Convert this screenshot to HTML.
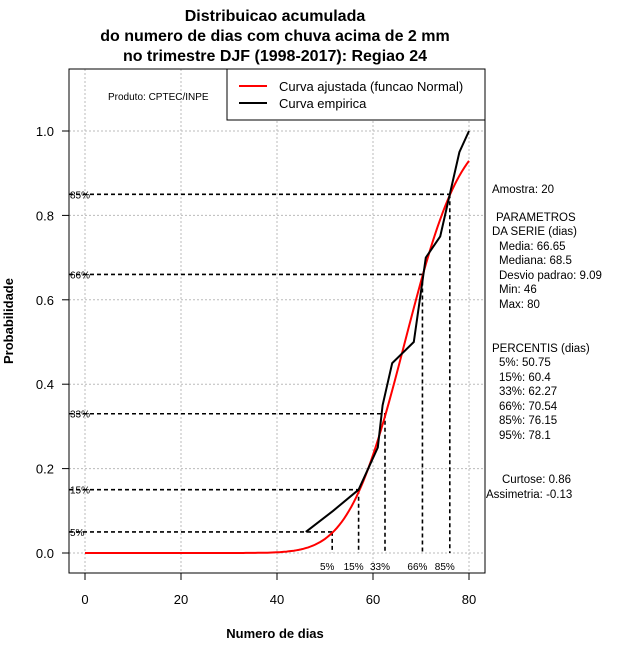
<!DOCTYPE html>
<html><head><meta charset="utf-8"><style>
body{margin:0;background:#fff}
svg{display:block;font-family:"Liberation Sans",sans-serif}
</style></head><body>
<svg id="c" width="640" height="660" xmlns="http://www.w3.org/2000/svg">
<g font-size="16" font-weight="bold" text-anchor="middle">
<text x="275" y="21">Distribuicao acumulada</text>
<text x="275" y="41">do numero de dias com chuva acima de 2 mm</text>
<text x="275" y="61">no trimestre DJF (1998-2017): Regiao 24</text>
</g>
<g id="grid"></g>
<g id="refs"></g>
<path id="fit" fill="none" stroke="#f00" stroke-width="2"/>
<path id="emp" fill="none" stroke="#000" stroke-width="2"/>
<rect x="69" y="69" width="416" height="504" fill="none" stroke="#000"/>
<g id="axes" font-size="13"></g>
<text x="275" y="638" font-size="13" font-weight="bold" text-anchor="middle">Numero de dias</text>
<text transform="translate(13,321) rotate(-90)" font-size="13" font-weight="bold" text-anchor="middle">Probabilidade</text>
<text x="108" y="100" font-size="10">Produto: CPTEC/INPE</text>
<g>
<rect x="227" y="69" width="258" height="51" fill="#fff" stroke="#000"/>
<line x1="239" y1="86" x2="267" y2="86" stroke="#f00" stroke-width="2"/>
<line x1="239" y1="103" x2="267" y2="103" stroke="#000" stroke-width="2"/>
<text x="279" y="91" font-size="13">Curva ajustada (funcao Normal)</text>
<text x="279" y="108" font-size="13">Curva empirica</text>
</g>
<g font-size="11.5">
<text x="492" y="193">Amostra: 20</text>
<text x="496" y="221">PARAMETROS</text>
<text x="492" y="235">DA SERIE (dias)</text>
<text x="499" y="250">Media: 66.65</text>
<text x="499" y="264">Mediana: 68.5</text>
<text x="499" y="279">Desvio padrao: 9.09</text>
<text x="499" y="293">Min: 46</text>
<text x="499" y="308">Max: 80</text>
<text x="492" y="352">PERCENTIS (dias)</text>
<text x="499" y="366">5%: 50.75</text>
<text x="499" y="381">15%: 60.4</text>
<text x="499" y="395">33%: 62.27</text>
<text x="499" y="410">66%: 70.54</text>
<text x="499" y="424">85%: 76.15</text>
<text x="499" y="439">95%: 78.1</text>
<text x="502" y="483">Curtose: 0.86</text>
<text x="486" y="498">Assimetria: -0.13</text>
</g>
</svg>
<script>
const xTicks=[0,20,40,60,80];
const yTicks=[0,0.2,0.4,0.6,0.8,1.0];
const empX=[46,51.7,57,61,62,64,68.5,71,74,78,80];
const empY=[0.05,0.10,0.15,0.25,0.35,0.45,0.5,0.7,0.75,0.95,1.0];
const fitMean=66.65, fitSd=9.09;
const pctLabels=["5%","15%","33%","66%","85%"];
const pctProb=[0.05,0.15,0.33,0.66,0.85];
const pctDays=[51.5,57,62.5,70.3,76];
const X=v=>85+v*4.8, Y=p=>553-p*422;
const NS="http://www.w3.org/2000/svg";
function mk(parent,tag,attrs){const e=document.createElementNS(NS,tag);for(const k in attrs)e.setAttribute(k,attrs[k]);parent.appendChild(e);return e;}
const grid=document.getElementById('grid'),axes=document.getElementById('axes'),refs=document.getElementById('refs');
xTicks.forEach(t=>{
 const g=mk(grid,'line',{x1:X(t),x2:X(t),y1:69,y2:573,stroke:'#bbb','stroke-dasharray':'2,2'});
 
 const tk=mk(axes,'line',{x1:X(t),x2:X(t),y1:573,y2:580,stroke:'#000'});
 
 const l=mk(axes,'text',{x:X(t),y:604,'text-anchor':'middle'});l.textContent=t;
 
});
yTicks.forEach(t=>{
 const g=mk(grid,'line',{x1:69,x2:485,y1:Y(t),y2:Y(t),stroke:'#bbb','stroke-dasharray':'2,2'});
 
 const tk=mk(axes,'line',{x1:62,x2:69,y1:Y(t),y2:Y(t),stroke:'#000'});
 
 const l=mk(axes,'text',{x:54,y:Y(t)+5,'text-anchor':'end'});l.textContent=t.toFixed(1);
 
});
pctProb.forEach((p,i)=>{
 const h=mk(refs,'line',{x1:69,x2:X(pctDays[i]),y1:Y(p),y2:Y(p),stroke:'#000','stroke-width':1.6,'stroke-dasharray':'4,3'});
 
 const v=mk(refs,'line',{x1:X(pctDays[i]),x2:X(pctDays[i]),y1:Y(p),y2:Y(0),stroke:'#000','stroke-width':1.6,'stroke-dasharray':'4,3'});
 
 const a=mk(refs,'text',{x:70,y:Y(p)+4,'font-size':10});a.textContent=pctLabels[i];
 
 const b=mk(refs,'text',{x:X(pctDays[i])-5,y:570,'font-size':10,'text-anchor':'middle'});b.textContent=pctLabels[i];
 
});
function erf(x){const s=Math.sign(x);x=Math.abs(x);const t=1/(1+0.3275911*x);
 const y=1-(((((1.061405429*t-1.453152027)*t)+1.421413741)*t-0.284496736)*t+0.254829592)*t*Math.exp(-x*x);return s*y;}
let d='';for(let v=0;v<=80;v+=0.5){const p=0.5*(1+erf((v-fitMean)/(fitSd*Math.SQRT2)));d+=(v?'L':'M')+X(v).toFixed(1)+','+Y(p).toFixed(1);}
document.getElementById('fit').setAttribute('d',d);
document.getElementById('emp').setAttribute('d',empX.map((v,i)=>(i?'L':'M')+X(v)+','+Y(empY[i])).join(''));
</script>
</body></html>
